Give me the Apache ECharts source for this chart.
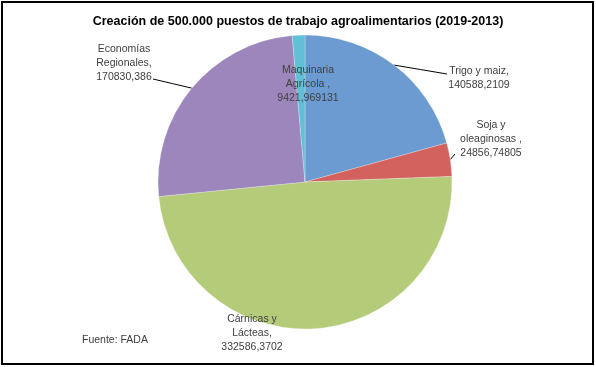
<!DOCTYPE html>
<html><head><meta charset="utf-8">
<script src="https://cdn.jsdelivr.net/npm/echarts@6/dist/echarts.min.js"></script>
<style>html,body{margin:0;padding:0;background:#fff}#c{width:596px;height:367px}</style>
</head><body><div id="c"></div>
<script>
const categories = ['Trigo y maiz', 'Soja y oleaginosas', 'Cárnicas y Lácteas', 'Economías Regionales', 'Maquinaria Agrícola'];
const labelTexts = ['Trigo y maiz,', 'Soja y\noleaginosas ,', 'Cárnicas y\nLácteas,', 'Economías\nRegionales,', 'Maquinaria\nAgrícola ,'];
const values = [140588.2109, 24856.74805, 332586.3702, 170830.386, 9421.969131];
const titleText = 'Creación de 500.000 puestos de trabajo agroalimentarios (2019-2013)';
const sourceText = 'Fuente: FADA';

const colors = ['#6b9bd1', '#d3625f', '#b4cb7a', '#9c86bb', '#62c0d6'];
const labelPos = [[479, 78], [491, 139], [252, 333], [124, 63], [308, 84]];
const lineEnd = [[447, 74], [455, 154], null, [153, 79], null];
const FONT = '"Liberation Sans", Arial, sans-serif';

const chart = echarts.init(document.getElementById('c'), null, {renderer: 'canvas'});
chart.setOption({
  animation: false,
  title: {
    text: titleText, left: 'center', top: 10,
    textStyle: {fontFamily: FONT, fontSize: 12.5, fontWeight: 'bold', color: '#000'}
  },
  graphic: [
    {type: 'rect', shape: {x: 2, y: 2, width: 591, height: 362}, style: {fill: 'none', stroke: '#000', lineWidth: 2}, silent: true, z: 100},
    {type: 'text', left: 82, top: 335, style: {text: sourceText, font: '10.5px ' + FONT, fill: '#404040'}}
  ],
  series: [{
    type: 'pie',
    center: [305, 182],
    radius: 147,
    startAngle: 90,
    clockwise: true,
    avoidLabelOverlap: false,
    itemStyle: {borderColor: 'rgba(255,255,255,0.5)', borderWidth: 0.5},
    label: {
      show: true, fontFamily: FONT, fontSize: 10.5, color: '#404040', lineHeight: 14,
      formatter: p => labelTexts[p.dataIndex] + '\n' + String(values[p.dataIndex]).replace('.', ',')
    },
    labelLine: {show: true, lineStyle: {color: '#000', width: 1}},
    labelLayout: function (params) {
      const i = params.dataIndex;
      const p = labelPos[i];
      const res = {x: p[0], y: p[1], align: 'center', verticalAlign: 'middle'};
      if (lineEnd[i] && params.labelLinePoints) {
        const s = params.labelLinePoints[0];
        const e = lineEnd[i];
        res.labelLinePoints = [s, [(s[0] + e[0]) / 2, (s[1] + e[1]) / 2], e];
      }
      return res;
    },
    data: categories.map((c, i) => ({
      name: c, value: values[i],
      itemStyle: {color: colors[i]},
      labelLine: {show: !!lineEnd[i]}
    }))
  }]
});
</script></body></html>
